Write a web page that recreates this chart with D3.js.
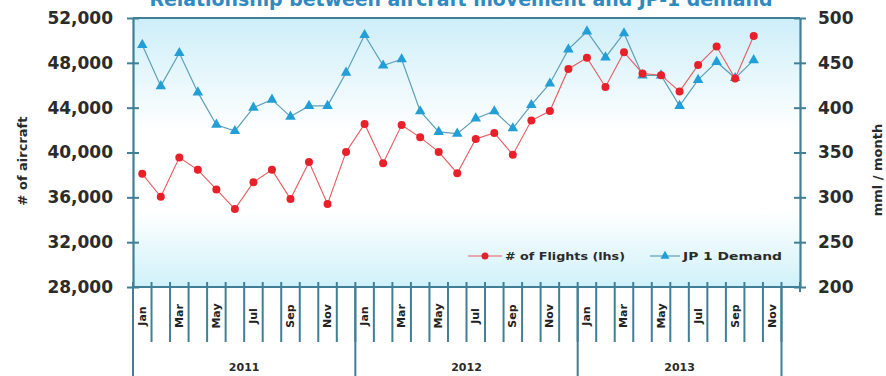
<!DOCTYPE html>
<html>
<head>
<meta charset="utf-8">
<script src="https://cdn.jsdelivr.net/npm/d3@7"></script>
<style>
  html, body { margin: 0; padding: 0; background: #fff; }
  svg { display: block; }
  text { font-family: "DejaVu Sans", sans-serif; font-weight: bold; }
</style>
</head>
<body>
<svg id="chart" width="886" height="376"></svg>
<script>
// Monthly aircraft movements (left axis) and JP-1 demand in mml/month (right axis)
const years = ["2011", "2012", "2013"];
const yearSpans = [12, 12, 11];
const monthNames = ["Jan","Feb","Mar","Apr","May","Jun","Jul","Aug","Sep","Oct","Nov","Dec"];
const categories = d3.range(36).map(i => monthNames[i % 12]);
const flights = [
  38100, 36050, 39550, 38450, 36700, 34950, 37350, 38450, 35850, 39150, 35400, 40050,
  42550, 39050, 42450, 41350, 40050, 38150, 41200, 41750, 39800, 42850, 43700, 47450,
  48450, 45850, 48950, 47050, 46900, 45450, 47800, 49450, 46600, 50400
];
const jp1Demand = [
  470, 424, 461, 417, 381, 374, 400, 409, 390, 402, 402, 439,
  481, 447, 454, 396, 373, 371, 388, 396, 377, 403, 427, 465,
  485, 456, 483, 436, 436, 402, 431, 451, 433, 453
];
const leftTicks = [28000, 32000, 36000, 40000, 44000, 48000, 52000];
const rightTicks = [200, 250, 300, 350, 400, 450, 500];
const titleText = "Relationship between aircraft movement and JP-1 demand";

const svg = d3.select("#chart");
const L = 133, R = 800, T = 18, B = 287;
const axisColor = "#407f96";

const x = d3.scaleBand().domain(d3.range(categories.length)).range([L, R]);
const yL = d3.scaleLinear().domain([28000, 52000]).range([B, T]);
const yR = d3.scaleLinear().domain([200, 500]).range([B, T]);
const bw = x.bandwidth();
const cx = i => x(i) + bw / 2;

// plot background gradient
const defs = svg.append("defs");
const grad = defs.append("linearGradient").attr("id", "bg")
  .attr("x1", 0).attr("y1", 0).attr("x2", 0).attr("y2", 1);
[[0, "#cdeef9"], [0.42, "#ffffff"], [0.72, "#ffffff"], [1, "#cff1f9"]]
  .forEach(([o, c]) => grad.append("stop").attr("offset", o).attr("stop-color", c));
svg.append("rect").attr("x", L).attr("y", T).attr("width", R - L).attr("height", B - T)
  .attr("fill", "url(#bg)");

// title
svg.append("text").attr("x", 461).attr("y", 6)
  .attr("text-anchor", "middle").attr("font-size", 19).attr("fill", "#2f8abf")
  .attr("textLength", 623).attr("lengthAdjust", "spacingAndGlyphs")
  .text(titleText);

// top border
svg.append("line").attr("x1", L).attr("x2", R).attr("y1", T).attr("y2", T)
  .attr("stroke", axisColor).attr("stroke-width", 2);

// left axis
const gL = svg.append("g").attr("transform", `translate(${L},0)`)
  .call(d3.axisLeft(yL).tickValues(leftTicks).tickFormat(d3.format(",")).tickSize(0).tickPadding(20));
gL.select(".domain").attr("stroke", axisColor).attr("stroke-width", 2.2);
gL.selectAll(".tick text").attr("font-size", 17).attr("fill", "#2b2b2b")
  .attr("font-family", "DejaVu Sans").attr("font-weight", "bold");
gL.selectAll(".tick").append("line").attr("x1", -6).attr("x2", 6)
  .attr("stroke", axisColor).attr("stroke-width", 2);

// right axis
const gR = svg.append("g").attr("transform", `translate(${R},0)`)
  .call(d3.axisRight(yR).tickValues(rightTicks).tickSize(0).tickPadding(18));
gR.select(".domain").attr("stroke", axisColor).attr("stroke-width", 2.2);
gR.selectAll(".tick text").attr("font-size", 17).attr("fill", "#2b2b2b")
  .attr("font-family", "DejaVu Sans").attr("font-weight", "bold");
gR.selectAll(".tick").append("line").attr("x1", -6).attr("x2", 6)
  .attr("stroke", axisColor).attr("stroke-width", 2);

// axis titles
svg.append("text").attr("transform", "translate(22,161) rotate(-90)")
  .attr("text-anchor", "middle").attr("dominant-baseline", "central")
  .attr("font-size", 13).attr("fill", "#2b2b2b").text("# of aircraft");
svg.append("text").attr("transform", "translate(877,170) rotate(-90)")
  .attr("text-anchor", "middle").attr("dominant-baseline", "central")
  .attr("font-size", 13).attr("fill", "#2b2b2b").text("mml / month");

// category axis
const gB = svg.append("g");
const bounds = d3.range(categories.length).map(i => x(i)).concat([R]);
gB.selectAll("line.cat").data(bounds).join("line").attr("class", "cat")
  .attr("x1", d => d).attr("x2", d => d)
  .attr("y1", B - 5).attr("y2", (d, i) => i === bounds.length - 1 ? B + 5 : 342)
  .attr("stroke", axisColor).attr("stroke-width", 2);
gB.append("line").attr("x1", L).attr("x2", R).attr("y1", B).attr("y2", B)
  .attr("stroke", axisColor).attr("stroke-width", 2.2);

// year group separators and labels
let start = 0;
const yearBounds = [0];
yearSpans.forEach(n => { start += n; yearBounds.push(start); });
gB.selectAll("line.yr").data(yearBounds).join("line").attr("class", "yr")
  .attr("x1", d => x(d)).attr("x2", d => x(d))
  .attr("y1", B).attr("y2", 376)
  .attr("stroke", axisColor).attr("stroke-width", 2);
gB.selectAll("text.yr").data(years).join("text").attr("class", "yr")
  .attr("x", (d, i) => (x(yearBounds[i]) + x(yearBounds[i + 1])) / 2)
  .attr("y", 367).attr("dominant-baseline", "central")
  .attr("text-anchor", "middle").attr("font-size", 11).attr("fill", "#2b2b2b").text(d => d);

// month labels (every other month)
gB.selectAll("text.mo").data(categories.map((m, i) => ({ m, i })).filter(d => d.i % 2 === 0))
  .join("text").attr("class", "mo")
  .attr("transform", d => `translate(${cx(d.i)},316) rotate(-90)`)
  .attr("text-anchor", "middle").attr("dominant-baseline", "central")
  .attr("font-size", 11).attr("fill", "#222").text(d => d.m);

// JP-1 demand series
const lineR = d3.line().x((d, i) => cx(i)).y(d => yR(d));
svg.append("path").datum(jp1Demand).attr("d", lineR)
  .attr("fill", "none").attr("stroke", "#5f9fb8").attr("stroke-width", 1.2);
const tri = d3.symbol().type(d3.symbolTriangle).size(48);
svg.selectAll("path.tri").data(jp1Demand).join("path").attr("class", "tri")
  .attr("transform", (d, i) => `translate(${cx(i)},${yR(d)})`)
  .attr("d", tri).attr("fill", "#239fd8");

// flights series
const lineL = d3.line().x((d, i) => cx(i)).y(d => yL(d));
svg.append("path").datum(flights).attr("d", lineL)
  .attr("fill", "none").attr("stroke", "#e45c60").attr("stroke-width", 1.1);
svg.selectAll("circle.fl").data(flights).join("circle").attr("class", "fl")
  .attr("cx", (d, i) => cx(i)).attr("cy", d => yL(d)).attr("r", 4)
  .attr("fill", "#e8202a");

// legend
const lg = svg.append("g");
lg.append("line").attr("x1", 468).attr("x2", 502).attr("y1", 256).attr("y2", 256)
  .attr("stroke", "#e45c60").attr("stroke-width", 1.1);
lg.append("circle").attr("cx", 485).attr("cy", 256).attr("r", 3.5).attr("fill", "#e8202a");
lg.append("text").attr("x", 505).attr("y", 256).attr("dominant-baseline", "central")
  .attr("font-size", 11).attr("fill", "#2b2b2b")
  .attr("textLength", 120).attr("lengthAdjust", "spacingAndGlyphs").text("# of Flights (lhs)");
lg.append("line").attr("x1", 650).attr("x2", 680).attr("y1", 256).attr("y2", 256)
  .attr("stroke", "#5f9fb8").attr("stroke-width", 1.2);
lg.append("path").attr("transform", "translate(665,256)").attr("d", d3.symbol().type(d3.symbolTriangle).size(36))
  .attr("fill", "#239fd8");
lg.append("text").attr("x", 683).attr("y", 256).attr("dominant-baseline", "central")
  .attr("font-size", 11).attr("fill", "#2b2b2b")
  .attr("textLength", 99).attr("lengthAdjust", "spacingAndGlyphs").text("JP 1 Demand");
</script>
</body>
</html>
